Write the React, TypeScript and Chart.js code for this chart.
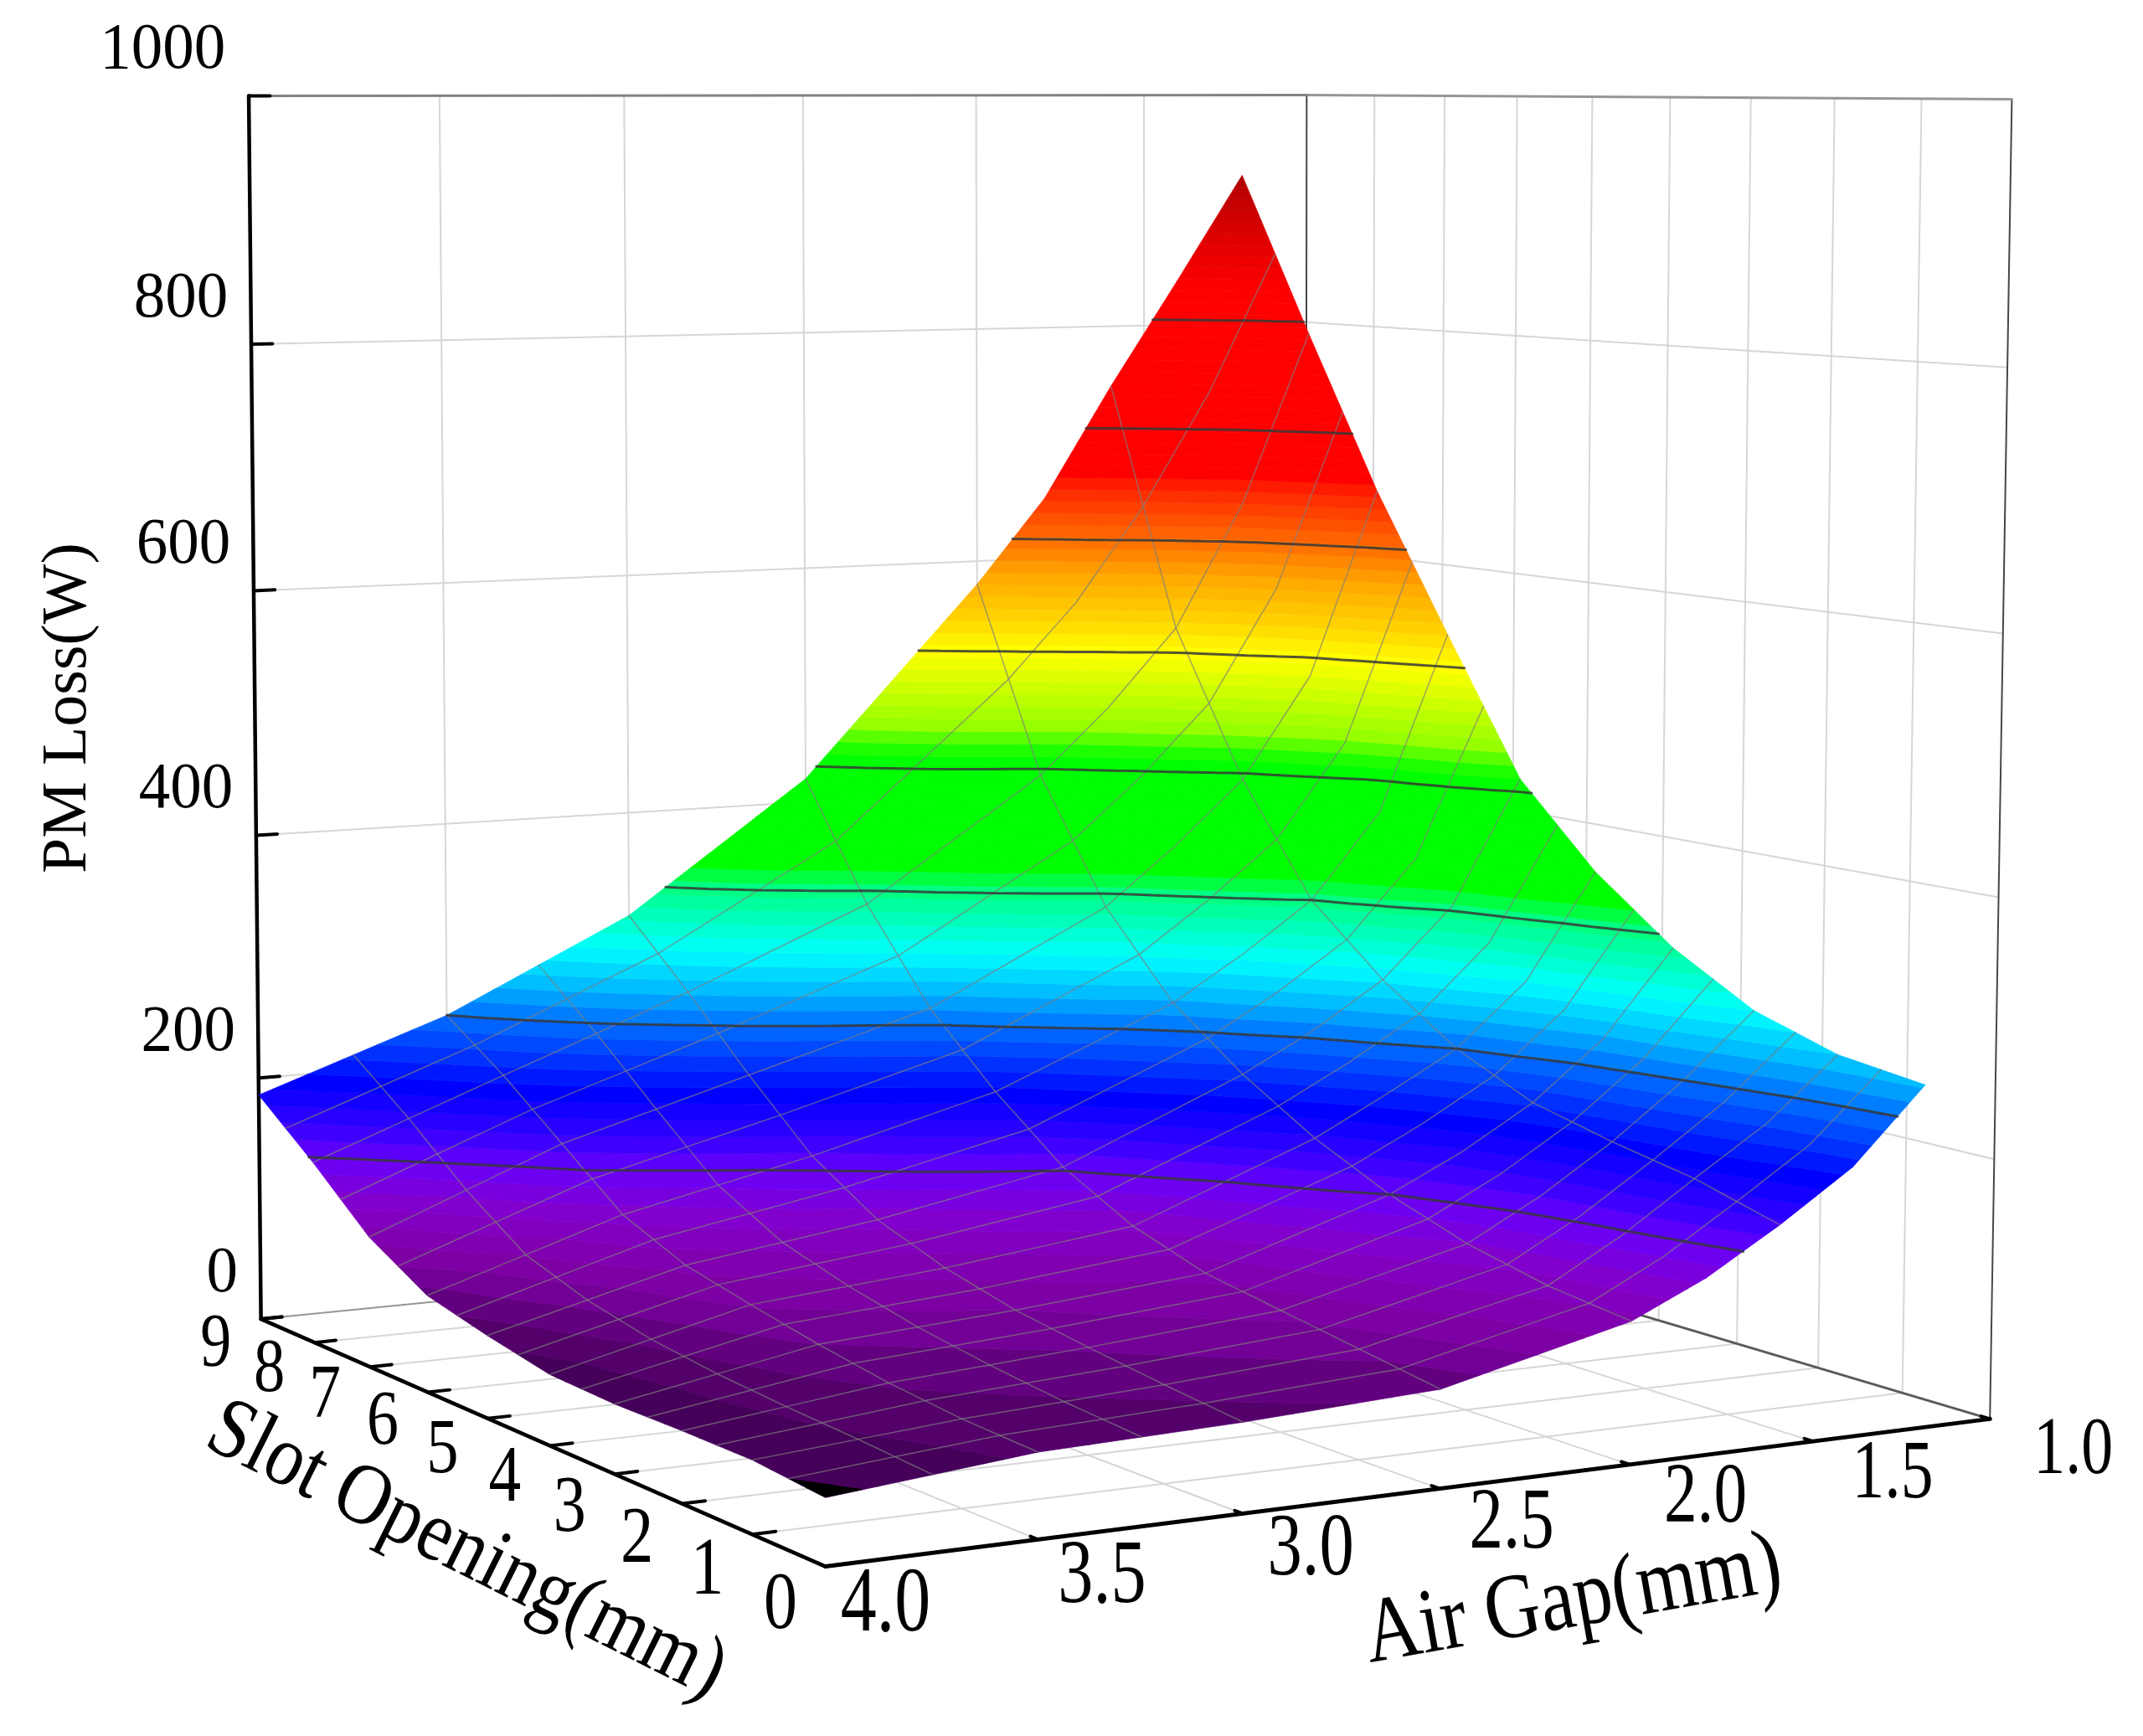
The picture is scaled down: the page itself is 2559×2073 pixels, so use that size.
import React, { useEffect, useRef } from 'react';
import { Chart, registerables } from 'chart.js';
Chart.register(...registerables);

const CANVAS_W = 2559;
const CANVAS_H = 2073;
const VIEW_W = 1568;
const VIEW_H = 1270;

// ---- data ----
const slotOpenings = [0, 1, 2, 3, 4, 5, 6, 7, 8, 9];
const airGaps = [1.2, 1.4, 1.6, 1.8, 2, 2.5, 3, 3.5, 4];
const lossAtGap12 = [262, 270, 290, 326, 375, 440, 551, 665, 795, 930];
const lossAtGap14 = [205, 222, 240, 258, 290, 338, 405, 510, 650, 838];
const lossAtGap16 = [167, 185, 197, 212, 240, 282, 335, 425, 545, 748];
const lossAtGap18 = [133, 147, 160, 178, 208, 245, 294, 372, 480, 652];
const lossAtGap20 = [107, 115, 129, 150, 178, 214, 258, 325, 425, 580];
const lossAtGap25 = [73, 83, 93, 103, 122, 152, 197, 251, 325, 420];
const lossAtGap30 = [66, 73, 81, 90, 104, 124, 158, 208, 262, 313];
const lossAtGap35 = [62, 65, 71, 80, 91, 103, 125, 165, 205, 240];
const lossAtGap40 = [48, 53, 53, 52, 54, 64, 76, 104, 147, 186];
const pmLoss = [lossAtGap12, lossAtGap14, lossAtGap16, lossAtGap18, lossAtGap20, lossAtGap25, lossAtGap30, lossAtGap35, lossAtGap40];

const contourLevels = [150, 240, 335, 430, 525, 618, 712, 805];
const zTicks = [0, 200, 400, 600, 800, 1000];
const slotTicks = [0, 1, 2, 3, 4, 5, 6, 7, 8, 9];
const gapTicks = [1.0, 1.5, 2.0, 2.5, 3.0, 3.5, 4.0];
const gapGrid = [1.5, 2.0, 2.5, 3.0, 3.5];
const slotGrid = [1, 2, 3, 4, 5, 6, 7, 8];
const meshSlots = [0.5, 1, 1.5, 2, 2.5, 3, 3.5, 4, 4.5, 5, 5.5, 6, 6.5, 7, 7.5, 8, 8.5];
const meshGaps = [1.6, 2, 2.5, 3, 3.25, 3.5, 3.75];

const bandStep = 10;
const blackBelow = 50.5;
const colorZ = [52, 70, 85, 100, 125, 150, 170, 195, 240, 265, 290, 335, 355, 440, 465, 515, 525, 550, 590, 618, 660, 675, 830, 880, 935];
const colorRGB = [
  [65, 0, 85], [90, 0, 115], [115, 0, 150], [128, 0, 170], [130, 0, 205], [105, 0, 250], [50, 0, 255], [0, 0, 255],
  [0, 110, 255], [0, 190, 255], [0, 255, 255], [0, 255, 130], [0, 255, 0], [0, 255, 0], [150, 255, 0], [240, 255, 0],
  [255, 255, 0], [255, 215, 0], [255, 165, 0], [255, 110, 0], [255, 40, 0], [255, 0, 0], [255, 0, 0], [220, 0, 0], [170, 0, 0],
];

// ---- camera: perspective map from (slot, gap, loss) to reference view units ----
const CAM = { x0: 604, xu: -376.4, xv: 1022.2, xw: -14.7, xuvw: -5, y0: 1146, yu: 4.1, yv: 13.4, yw: -1074, yuw: 6, yvw: -6, du: 0.19185, dv: 0.11691, dw: -0.02217 };
type P = { x: number; y: number };
type V = { x: number; y: number; z: number };
function project(slot: number, gap: number, z: number): P {
  const u = slot / 9, v = (4 - gap) / 3, w = z / 1000;
  const d = 1 + CAM.du * u + CAM.dv * v + CAM.dw * w;
  return {
    x: (CAM.x0 + CAM.xu * u + CAM.xv * v + (CAM.xw + CAM.xuvw * u * v) * w) / d,
    y: (CAM.y0 + CAM.yu * u + CAM.yv * v + (CAM.yw + CAM.yuw * u + CAM.yvw * v) * w) / d,
  };
}

function interp(list: number[], t: number) {
  const i = Math.min(list.length - 2, Math.floor(t));
  return list[i] + (list[i + 1] - list[i]) * (t - i);
}
function surfaceAt(c: number, r: number) {
  const ci = Math.min(slotOpenings.length - 2, Math.floor(c));
  const ri = Math.min(airGaps.length - 2, Math.floor(r));
  const fc = c - ci, fr = r - ri;
  return (
    pmLoss[ri][ci] * (1 - fc) * (1 - fr) + pmLoss[ri][ci + 1] * fc * (1 - fr) +
    pmLoss[ri + 1][ci] * (1 - fc) * fr + pmLoss[ri + 1][ci + 1] * fc * fr
  );
}
function surfaceVertex(c: number, r: number): V {
  const z = surfaceAt(c, r);
  const p = project(interp(slotOpenings, c), interp(airGaps, r), z);
  return { x: p.x, y: p.y, z };
}
function indexOf(list: number[], val: number) {
  for (let i = 0; i < list.length - 1; i++) {
    const a = list[i], b = list[i + 1];
    if ((val >= a && val <= b) || (val <= a && val >= b)) return i + (val - a) / (b - a);
  }
  return 0;
}

const SUB = 4;
function buildTriangles(): V[][] {
  const out: V[][] = [];
  const nc = slotOpenings.length - 1, nr = airGaps.length - 1;
  for (let r = 0; r < nr; r++) for (let c = 0; c < nc; c++) for (let a = 0; a < SUB; a++) for (let b = 0; b < SUB; b++) {
    const c0 = c + a / SUB, c1 = c + (a + 1) / SUB, r0 = r + b / SUB, r1 = r + (b + 1) / SUB;
    const p00 = surfaceVertex(c0, r0), p10 = surfaceVertex(c1, r0), p01 = surfaceVertex(c0, r1), p11 = surfaceVertex(c1, r1);
    out.push([p00, p10, p11], [p00, p11, p01]);
  }
  return out;
}
function clipAbove(poly: V[], level: number, keepAbove: boolean): V[] {
  const res: V[] = [];
  for (let i = 0; i < poly.length; i++) {
    const a = poly[i], b = poly[(i + 1) % poly.length];
    const ina = keepAbove ? a.z >= level : a.z <= level;
    const inb = keepAbove ? b.z >= level : b.z <= level;
    if (ina) res.push(a);
    if (ina !== inb) {
      const t = (level - a.z) / (b.z - a.z);
      res.push({ x: a.x + (b.x - a.x) * t, y: a.y + (b.y - a.y) * t, z: level });
    }
  }
  return res;
}
function colorFor(z: number) {
  if (z <= colorZ[0]) return `rgb(${colorRGB[0].join(',')})`;
  for (let i = 0; i < colorZ.length - 1; i++) {
    if (z <= colorZ[i + 1]) {
      const t = (z - colorZ[i]) / (colorZ[i + 1] - colorZ[i]);
      const c = colorRGB[i].map((v, k) => Math.round(v + (colorRGB[i + 1][k] - v) * t));
      return `rgb(${c.join(',')})`;
    }
  }
  return `rgb(${colorRGB[colorRGB.length - 1].join(',')})`;
}
function contourPoints(tris: V[][]) {
  const pts: P[] = [];
  const gapPoint = { x: NaN, y: NaN };
  for (const level0 of contourLevels) {
    const level = level0 + 0.013;
    for (const t of tris) {
      const hits: P[] = [];
      for (let i = 0; i < 3; i++) {
        const a = t[i], b = t[(i + 1) % 3];
        if ((a.z < level) !== (b.z < level)) {
          const k = (level - a.z) / (b.z - a.z);
          hits.push({ x: a.x + (b.x - a.x) * k, y: a.y + (b.y - a.y) * k });
        }
      }
      if (hits.length === 2) pts.push(hits[0], hits[1], gapPoint);
    }
  }
  return pts;
}

function seg(a: P, b: P) { return [a, b]; }

function buildDatasets(tris: V[][]) {
  const ds: any[] = [];
  const add = (label: string, data: P[], color: string, width: number, order: number, dash?: number[]) =>
    ds.push({ label, data, showLine: true, pointRadius: 0, borderColor: color, borderWidth: width, borderDash: dash || [], order, clip: false, tension: 0, borderCapStyle: 'round' });

  const gridC = 'rgb(214,214,214)';
  slotGrid.forEach(s => add('floor', seg(project(s, 4, 0), project(s, 1, 0)), gridC, 2, 40));
  gapGrid.forEach(g => add('floor', seg(project(0, g, 0), project(9, g, 0)), gridC, 2, 40));
  gapGrid.forEach(g => add('wallL', seg(project(9, g, 0), project(9, g, 1000)), gridC, 2, 40));
  slotGrid.forEach(s => add('wallR', seg(project(s, 1, 0), project(s, 1, 1000)), gridC, 2, 40));
  zTicks.slice(1, -1).forEach(z => {
    add('wallL', seg(project(9, 4, z), project(9, 1, z)), gridC, 2, 40);
    add('wallR', seg(project(9, 1, z), project(0, 1, z)), gridC, 2, 40);
  });
  add('frame', seg(project(9, 4, 1000), project(9, 1, 1000)), 'rgb(130,130,130)', 3, 35);
  add('frame', seg(project(9, 1, 1000), project(0, 1, 1000)), 'rgb(150,150,150)', 3, 35);
  add('frame', seg(project(9, 1, 0), project(9, 1, 1000)), 'rgb(70,70,70)', 2, 35);
  add('frame', seg(project(0, 1, 0), project(0, 1, 1000)), 'rgb(70,70,70)', 2, 35);
  add('frame', seg(project(9, 4, 0), project(9, 1, 0)), 'rgb(150,150,150)', 2, 35);
  add('frame', seg(project(0, 1, 0), project(9, 1, 0)), 'rgb(90,90,90)', 3, 35);
  add('axis', seg(project(9, 4, 0), project(9, 4, 1000)), '#000', 4.5, 34);
  add('axis', seg(project(9, 4, 0), project(0, 4, 0)), '#000', 4.5, 34);
  add('axis', seg(project(0, 4, 0), project(0, 1, 0)), '#000', 5, 34);
  zTicks.forEach(z => add('tick', seg(project(9, 4, z), project(9, 3.945, z)), '#000', 4, 34));
  slotTicks.forEach(s => add('tick', seg(project(s, 4, 0), project(s, 3.945, 0)), '#000', 4, 34));
  gapTicks.forEach(g => add('tick', seg(project(0, g, 0), project(0.1, g, 0)), '#000', 4, 34));

  const verts: P[] = [];
  pmLoss.forEach((row, r) => row.forEach((z, c) => verts.push(project(slotOpenings[c], airGaps[r], z))));
  ds.push({ label: 'surface', data: verts, showLine: false, pointRadius: 0, order: 20, clip: false });

  const meshC = 'rgba(125,125,125,0.7)';
  meshSlots.forEach(s => {
    const c = indexOf(slotOpenings, s);
    const pts: P[] = [];
    for (let i = 0; i <= 32; i++) pts.push(surfaceVertex(c, (i * (airGaps.length - 1)) / 32));
    add('mesh', pts, meshC, 1.5, 12);
  });
  meshGaps.forEach(g => {
    const r = indexOf(airGaps, g);
    const pts: P[] = [];
    for (let i = 0; i <= 36; i++) pts.push(surfaceVertex((i * (slotOpenings.length - 1)) / 36, r));
    add('mesh', pts, meshC, 1.5, 12);
  });
  add('contour', contourPoints(tris), 'rgba(55,55,55,0.85)', 3, 10);
  return ds;
}

const FONT = '"Liberation Serif"';
const surfacePlugin = (tris: V[][]) => ({
  id: 'surfacePaint',
  beforeDatasetDraw(chart: any, args: any) {
    if (chart.data.datasets[args.index].label !== 'surface') return;
    const ctx = chart.ctx as CanvasRenderingContext2D;
    const sx = chart.scales.x, sy = chart.scales.y;
    const bands = new Map<number, Path2D>();
    const black = new Path2D();
    const addPoly = (path: Path2D, poly: V[]) => {
      poly.forEach((p, i) => {
        const X = sx.getPixelForValue(p.x), Y = sy.getPixelForValue(p.y);
        if (i === 0) path.moveTo(X, Y); else path.lineTo(X, Y);
      });
      path.closePath();
    };
    for (const t of tris) {
      const zs = t.map(p => p.z);
      const k0 = Math.floor(Math.min(...zs) / bandStep), k1 = Math.floor(Math.max(...zs) / bandStep);
      for (let k = k0; k <= k1; k++) {
        let poly = clipAbove(t, k * bandStep, true);
        if (poly.length < 3) continue;
        poly = clipAbove(poly, (k + 1) * bandStep, false);
        if (poly.length < 3) continue;
        let path = bands.get(k);
        if (!path) { path = new Path2D(); bands.set(k, path); }
        addPoly(path, poly);
      }
      const low = clipAbove(t, blackBelow, false);
      if (low.length >= 3) addPoly(black, low);
    }
    ctx.save();
    ctx.lineWidth = 0.7;
    ctx.lineJoin = 'round';
    [...bands.keys()].sort((a, b) => a - b).forEach(k => {
      const col = colorFor((k + 0.5) * bandStep);
      const path = bands.get(k)!;
      ctx.fillStyle = col; ctx.strokeStyle = col;
      ctx.fill(path); ctx.stroke(path);
    });
    ctx.fillStyle = '#000';
    ctx.fill(black);
    ctx.restore();
  },
  afterDraw(chart: any) {
    const ctx = chart.ctx as CanvasRenderingContext2D;
    const sx = chart.scales.x, sy = chart.scales.y;
    const text = (s: string, vx: number, vy: number, size: number, align: CanvasTextAlign = 'center', rot = 0, stretch = 1) => {
      ctx.save();
      ctx.translate(sx.getPixelForValue(vx), sy.getPixelForValue(vy));
      ctx.rotate((rot * Math.PI) / 180);
      ctx.scale(1, stretch);
      ctx.font = `${size}px ${FONT}`;
      ctx.fillStyle = '#000';
      ctx.textAlign = align;
      ctx.textBaseline = 'middle';
      ctx.fillText(s, 0, 0);
      ctx.restore();
    };
    zTicks.forEach(z => { const p = project(9, 4, z); text(String(z), p.x - 17, p.y - 33, 75, 'right', 0, 1.05); });
    slotTicks.forEach(s => { const p = project(s, 4, 0); const k = 1 - s / 9; text(String(s), p.x - 33, p.y + 20 + 9 * k, 74 + 6 * k, 'center', 0, 1.22); });
    gapTicks.forEach(g => { const p = project(0, g, 0); const v = (4 - g) / 3; text(g.toFixed(1), p.x + 44 + 17 * v, p.y + 29 - 5 * v, 86 - 10 * v, 'center', 0, 1.28); });
    text('PM Loss(W)', 50, 518, 76, 'center', -90);
    text('Slot Opening(mm)', 341, 1135, 90, 'center', 26.5, 1.15);
    text('Air Gap(mm)', 1151, 1172, 92, 'center', -10, 1.2);
  },
});

export default function App() {
  const ref = useRef<HTMLCanvasElement>(null);
  useEffect(() => {
    document.body.style.margin = '0';
    const tris = buildTriangles();
    const chart = new Chart(ref.current as HTMLCanvasElement, {
      type: 'scatter',
      data: { datasets: buildDatasets(tris) },
      options: {
        animation: false,
        responsive: false,
        events: [],
        layout: { padding: 0 },
        plugins: { legend: { display: false }, tooltip: { enabled: false } },
        scales: {
          x: { type: 'linear', min: 0, max: VIEW_W, display: false },
          y: { type: 'linear', min: 0, max: VIEW_H, reverse: true, display: false },
        },
      },
      plugins: [surfacePlugin(tris)],
    } as any);
    return () => chart.destroy();
  }, []);
  return (
    <div style={{ width: CANVAS_W, height: CANVAS_H, background: '#fff' }}>
      <canvas ref={ref} width={CANVAS_W} height={CANVAS_H} style={{ display: 'block' }} />
    </div>
  );
}
